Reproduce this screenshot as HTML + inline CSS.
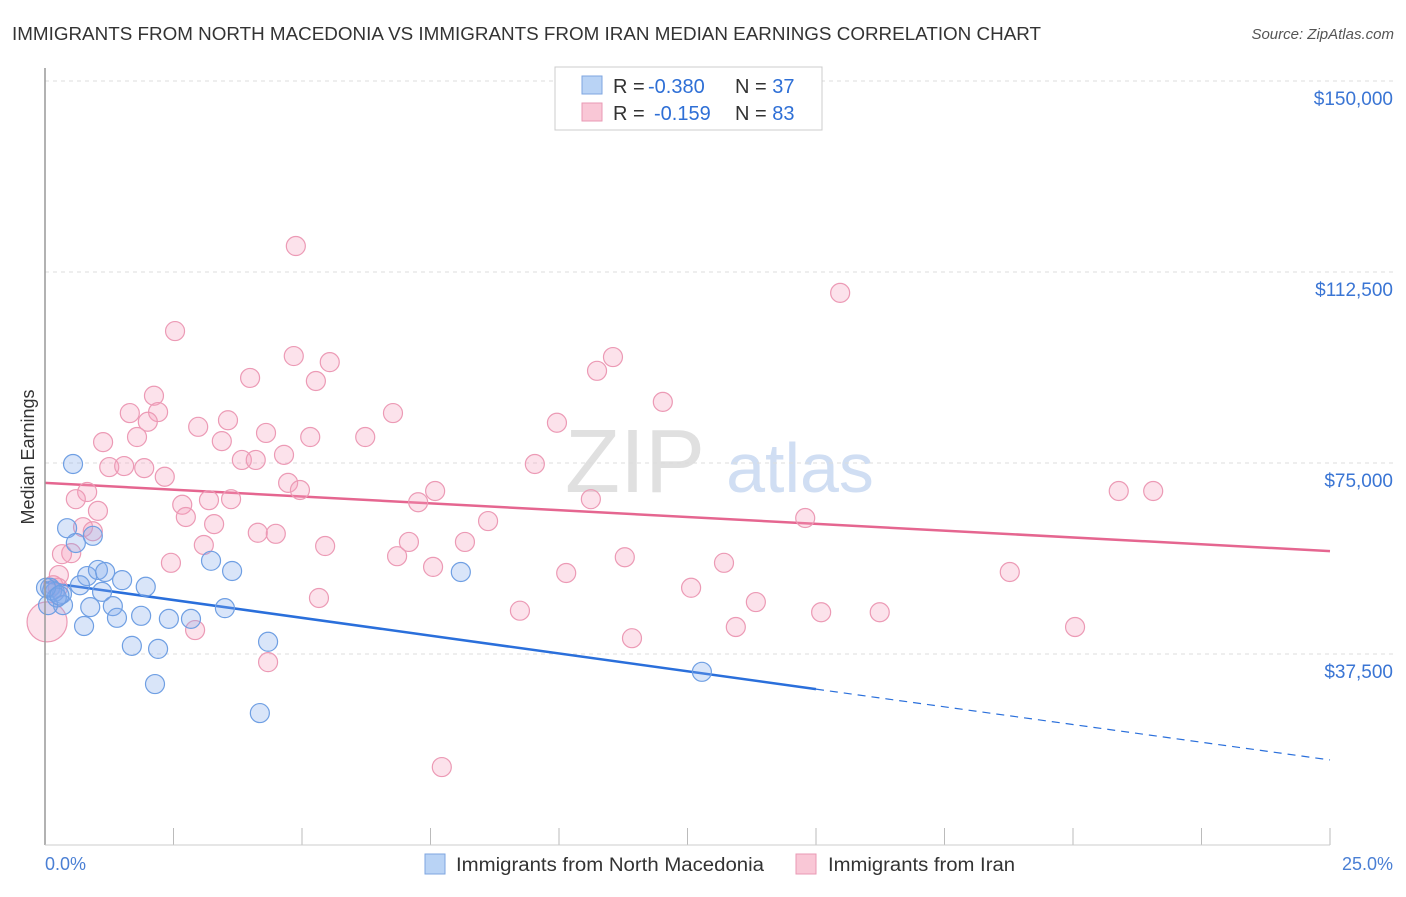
<!DOCTYPE html>
<html><head><meta charset="utf-8"><style>
body{margin:0;background:#fff;font-family:"Liberation Sans",sans-serif;}
svg text{font-family:"Liberation Sans",sans-serif;}
</style></head><body>
<svg id="chart" width="1406" height="892" xmlns="http://www.w3.org/2000/svg">
<text x="12" y="40" font-size="18" fill="#333" textLength="1029" lengthAdjust="spacingAndGlyphs">IMMIGRANTS FROM NORTH MACEDONIA VS IMMIGRANTS FROM IRAN MEDIAN EARNINGS CORRELATION CHART</text>
<text x="1394" y="39" font-size="15" fill="#555" text-anchor="end" font-style="italic">Source: ZipAtlas.com</text>
<text x="34" y="457" font-size="18" fill="#333" text-anchor="middle" transform="rotate(-90 34 457)">Median Earnings</text>
<text x="635" y="492" font-size="90" fill="#e0e0e0" font-family="Liberation Serif" text-anchor="middle">ZIP</text>
<text x="800" y="492" font-size="70" fill="#d0def3" text-anchor="middle">atlas</text>
<g id="grid"></g><g id="ticks"></g><g id="lines"></g><g id="pts"></g>
<line x1="45" y1="68" x2="45" y2="845" stroke="#999" stroke-width="1.5"/>
<line x1="45" y1="845" x2="1330" y2="845" stroke="#ccc"/>
<text x="45" y="870" font-size="18" fill="#4a7fd4">0.0%</text>
<text x="1393" y="870" font-size="18" fill="#4a7fd4" text-anchor="end">25.0%</text>
<g>
<rect x="555" y="67" width="267" height="63" fill="#fff" stroke="#ccc"/>
<rect x="582" y="76" width="20" height="18" fill="#b9d3f5" stroke="#7ea6e0"/>
<rect x="582" y="103" width="20" height="18" fill="#f9c7d6" stroke="#e99ab4"/>
<text x="613" y="93" font-size="20" fill="#333">R = <tspan fill="#2e6fd6" x="648">-0.380</tspan><tspan x="735">N = </tspan><tspan fill="#2e6fd6">37</tspan></text>
<text x="613" y="120" font-size="20" fill="#333">R = <tspan fill="#2e6fd6" x="654">-0.159</tspan><tspan x="735">N = </tspan><tspan fill="#2e6fd6">83</tspan></text>
</g>
<g>
<rect x="425" y="854" width="20" height="20" fill="#b9d3f5" stroke="#7ea6e0"/>
<text x="456" y="871" font-size="19" fill="#333" textLength="308" lengthAdjust="spacingAndGlyphs">Immigrants from North Macedonia</text>
<rect x="796" y="854" width="20" height="20" fill="#f9c7d6" stroke="#e99ab4"/>
<text x="828" y="871" font-size="19" fill="#333" textLength="187" lengthAdjust="spacingAndGlyphs">Immigrants from Iran</text>
</g>
</svg>
<script>
const yTicks=[37500,75000,112500,150000];
const yTickLabels=["$37,500","$75,000","$112,500","$150,000"];
const xTicks=[0,2.5,5,7.5,10,12.5,15,17.5,20,22.5,25];
const blueX=[0.545,0.43,0.93,0.60,0.82,1.03,1.17,1.50,0.68,1.96,0.10,0.19,0.33,1.11,1.32,0.88,0.35,0.06,1.40,1.87,2.41,2.84,0.76,1.69,2.20,2.14,3.23,3.64,3.50,4.34,4.18,8.09,12.78,0.14,0.23,0.02,0.28];
const blueY=[74.8,62.2,60.7,59.3,52.8,54.0,53.6,52.0,51.0,50.7,50.5,49.7,49.3,49.7,46.9,46.7,47.1,47.1,44.6,45.0,44.4,44.4,43.0,39.1,38.5,31.6,55.8,53.8,46.5,39.9,25.9,53.6,34.0,50.0,48.6,50.5,49.0];
const pinkX=[4.88,15.47,2.53,4.84,11.05,5.54,10.74,2.12,3.99,5.27,12.02,1.65,2.20,6.77,3.56,2.00,2.98,9.96,4.30,1.13,1.79,3.44,5.16,6.23,4.65,3.83,4.10,9.53,1.25,1.54,1.93,2.33,4.73,4.96,0.82,7.59,20.89,21.56,0.60,2.67,3.19,3.62,7.26,10.62,1.03,2.74,8.62,14.79,0.74,0.93,3.29,4.14,4.49,3.09,5.45,7.08,8.17,0.51,0.33,2.45,6.85,11.28,13.21,7.55,10.14,18.77,0.27,0.25,0.16,12.57,5.33,13.83,9.24,15.10,16.24,13.44,20.04,2.92,11.42,4.34,7.72,0.04];
const pinkY=[117.6,108.4,100.9,96.0,95.8,94.8,93.1,88.2,91.7,91.1,87.0,84.8,85.0,84.8,83.4,83.1,82.1,82.9,80.9,79.1,80.1,79.3,80.1,80.1,76.6,75.6,75.6,74.8,74.2,74.4,74.0,72.3,71.1,69.7,69.3,69.5,69.5,69.5,67.9,66.8,67.7,67.9,67.3,67.9,65.6,64.4,63.6,64.2,62.4,61.6,63.0,61.3,61.1,58.9,58.7,59.5,59.5,57.3,57.1,55.4,56.7,56.5,55.4,54.6,53.4,53.6,53.0,50.5,51.0,50.5,48.5,47.7,46.0,45.7,45.7,42.8,42.8,42.2,40.6,35.9,15.3,43.8];
const blueTrend=[51.6,30.6,16.7];
const blueTrendX=[0,15,25];
const pinkTrend=[71.1,57.7];
const pinkTrendX=[0,25];
const NS="http://www.w3.org/2000/svg";
function sx(p){return 45+p/25*1285;}
function sy(k){return 845-k/37.5*191;}
function mk(t,a,parent){const e=document.createElementNS(NS,t);for(const k in a)e.setAttribute(k,a[k]);document.getElementById(parent).appendChild(e);return e;}
yTicks.forEach((v,i)=>{
 const y=sy(v/1000);
 const l=mk('line',{x1:45,x2:1393,y1:y,y2:y,stroke:'#ddd','stroke-dasharray':'4,4'},'grid');
 
 
 const t=mk('text',{x:1393,y:y+24,'font-size':19,fill:'#3a75d4','text-anchor':'end'},'grid');
 t.textContent=yTickLabels[i];
 
 
});
xTicks.forEach(v=>{
 const l=mk('line',{x1:sx(v),x2:sx(v),y1:828,y2:845,stroke:'#bbb'},'ticks');
 
 
});
let l1=mk('line',{x1:sx(blueTrendX[0]),y1:sy(blueTrend[0]),x2:sx(blueTrendX[1]),y2:sy(blueTrend[1]),stroke:'#2a6fdb','stroke-width':2.5},'lines');


let l2=mk('line',{x1:sx(blueTrendX[1]),y1:sy(blueTrend[1]),x2:sx(blueTrendX[2]),y2:sy(blueTrend[2]),stroke:'#2a6fdb','stroke-width':1.2,'stroke-dasharray':'8,6'},'lines');


let l3=mk('line',{x1:sx(pinkTrendX[0]),y1:sy(pinkTrend[0]),x2:sx(pinkTrendX[1]),y2:sy(pinkTrend[1]),stroke:'#e56690','stroke-width':2.5},'lines');


pinkX.forEach((x,i)=>{
 const r=(i===pinkX.length-1)?20:9.5;
 const c=mk('circle',{cx:sx(x),cy:sy(pinkY[i]),r:r,fill:'rgba(244,160,190,0.3)',stroke:'#ec9ab5','stroke-width':1.2},'pts');
 
 
});
blueX.forEach((x,i)=>{
 const c=mk('circle',{cx:sx(x),cy:sy(blueY[i]),r:9.5,fill:'rgba(130,170,235,0.3)',stroke:'#6f9fe3','stroke-width':1.2},'pts');
 
 
});
</script>
</body></html>
